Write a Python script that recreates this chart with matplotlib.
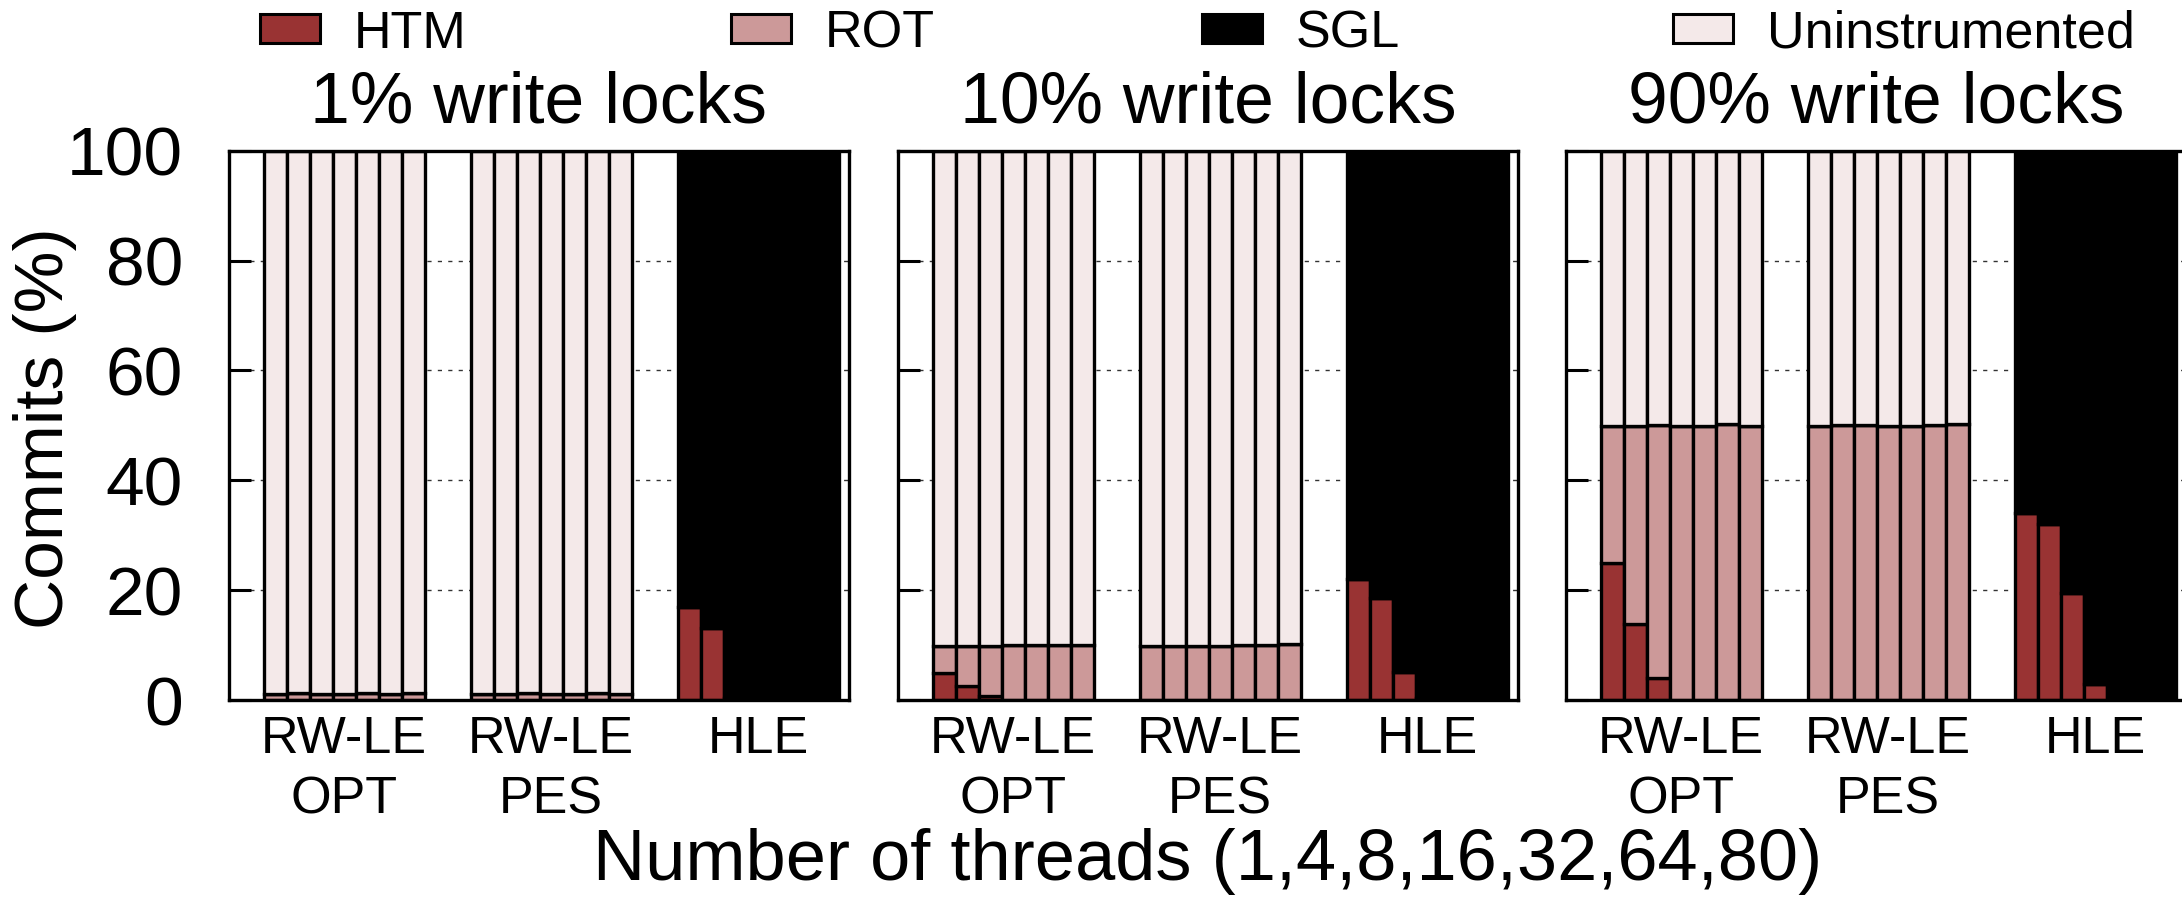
import matplotlib
matplotlib.use("Agg")
import matplotlib.pyplot as plt
from matplotlib.patches import Rectangle
import numpy as np

plt.rcParams["font.family"] = ["Liberation Sans", "DejaVu Sans"]

W, H = 2182, 900

# ---------------------------------------------------------------------
# data: 7 thread counts per group, groups RW-LE OPT | RW-LE PES | HLE
# ---------------------------------------------------------------------
THREADS = [1, 4, 8, 16, 32, 64, 80]
GROUPS = ["RW-LE\nOPT", "RW-LE\nPES", "HLE"]
TITLES = ["1% write locks", "10% write locks", "90% write locks"]
SERIES = ["HTM", "ROT", "SGL", "Uninstrumented"]
COLORS = ["#993333", "#cc9999", "#000000", "#f4e9e9"]

# 1% write locks
w1_htm = [0, 0, 0, 0, 0, 0, 0,
          0, 0, 0, 0, 0, 0, 0,
          17.0, 13.1, 0.4, 0, 0, 0, 0]
w1_rot = [1.1, 1.2, 1.1, 1.1, 1.2, 1.1, 1.2,
          1.1, 1.1, 1.2, 1.1, 1.1, 1.2, 1.1,
          0, 0, 0, 0, 0, 0, 0]
w1_sgl = [0, 0, 0, 0, 0, 0, 0,
          0, 0, 0, 0, 0, 0, 0,
          83.0, 86.9, 99.6, 100, 100, 100, 100]
w1_uni = [98.9, 98.8, 98.9, 98.9, 98.8, 98.9, 98.8,
          98.9, 98.9, 98.8, 98.9, 98.9, 98.8, 98.9,
          0, 0, 0, 0, 0, 0, 0]

# 10% write locks
w10_htm = [4.9, 2.6, 0.8, 0, 0, 0, 0,
           0, 0, 0, 0, 0, 0, 0,
           22.0, 18.5, 5.1, 0.4, 0, 0, 0]
w10_rot = [5.0, 7.3, 9.1, 10.0, 10.1, 10.0, 10.0,
           9.9, 9.9, 9.9, 9.9, 10.0, 10.0, 10.2,
           0, 0, 0, 0, 0, 0, 0]
w10_sgl = [0, 0, 0, 0, 0, 0, 0,
           0, 0, 0, 0, 0, 0, 0,
           78.0, 81.5, 94.9, 99.6, 100, 100, 100]
w10_uni = [90.1, 90.1, 90.1, 90.0, 89.9, 90.0, 90.0,
           90.1, 90.1, 90.1, 90.1, 90.0, 90.0, 89.8,
           0, 0, 0, 0, 0, 0, 0]

# 90% write locks
w90_htm = [24.9, 13.8, 4.0, 0, 0, 0, 0,
           0, 0, 0, 0, 0, 0, 0,
           34.1, 32.0, 19.5, 3.0, 0, 0, 0]
w90_rot = [25.0, 36.1, 46.0, 49.8, 49.8, 50.2, 49.9,
           49.9, 50.0, 50.0, 49.8, 49.9, 50.0, 50.3,
           0, 0, 0, 0, 0, 0, 0]
w90_sgl = [0, 0, 0, 0, 0, 0, 0,
           0, 0, 0, 0, 0, 0, 0,
           65.9, 68.0, 80.5, 97.0, 100, 100, 100]
w90_uni = [50.1, 50.1, 50.0, 50.2, 50.2, 49.8, 50.1,
           50.1, 50.0, 50.0, 50.2, 50.1, 50.0, 49.7,
           0, 0, 0, 0, 0, 0, 0]

PANEL_DATA = [
    [w1_htm, w1_rot, w1_sgl, w1_uni],
    [w10_htm, w10_rot, w10_sgl, w10_uni],
    [w90_htm, w90_rot, w90_sgl, w90_uni],
]

# ---------------------------------------------------------------------
# layout (pixels)
# ---------------------------------------------------------------------
AX_LEFT = [229, 898, 1566]
AX_W = 620
AX_TOP, AX_BOT = 150.7, 700
LW = 2.4

fig = plt.figure(figsize=(W / 100, H / 100), dpi=100)

n = len(THREADS)
x = np.concatenate([g * (n + 2) + np.arange(n) for g in range(len(GROUPS))])
centers = [g * (n + 2) + (n - 1) / 2 for g in range(len(GROUPS))]

for p, (title, series) in enumerate(zip(TITLES, PANEL_DATA)):
    ax = fig.add_axes([AX_LEFT[p] / W, 1 - AX_BOT / H, AX_W / W, (AX_BOT - AX_TOP) / H])
    bottom = np.zeros(len(x))
    for vals, color in zip(series, COLORS):
        vals = np.array(vals, dtype=float)
        ax.bar(x, vals, width=1.0, bottom=bottom, color=color,
               edgecolor="black", linewidth=LW, zorder=2)
        bottom += vals

    ax.set_xlim(-2.0, 24.95)
    ax.set_ylim(0, 100)
    ax.set_yticks([0, 20, 40, 60, 80, 100])
    ax.set_xticks(centers, labels=GROUPS)
    for lbl in ax.get_xticklabels():
        lbl.set_linespacing(1.3)
    ax.tick_params(axis="x", length=0, pad=11, labelsize=37.5)
    ax.tick_params(axis="y", direction="in", length=16, width=2.2, pad=33,
                   labelsize=50, labelleft=(p == 0))
    ax.yaxis.grid(True, linestyle=(0, (3, 4.5)), linewidth=1.0, color="#333333", zorder=0)
    ax.set_axisbelow(True)
    for s in ax.spines.values():
        s.set_linewidth(LW)
        s.set_zorder(3)
    ax.set_title(title, fontsize=51.5, pad=20.5)

# axis labels
fig.text(45 / W, 1 - 428 / H, "Commits (%)", rotation=90, ha="center", va="center",
         fontsize=50)
fig.text(1208 / W, 1 - 880 / H, "Number of threads (1,4,8,16,32,64,80)",
         ha="center", va="baseline", fontsize=52)

# legend across the top, equal column widths
for i, (name, color) in enumerate(zip(SERIES, COLORS)):
    x0 = (260 + i * 471) / W
    fig.add_artist(Rectangle((x0, 1 - 43 / H), 60 / W, 29 / H, transform=fig.transFigure,
                             facecolor=color, edgecolor="black", linewidth=2.2))
    fig.text(x0 + 94 / W, 1 - 48 / H, name, fontsize=37.5, va="baseline")

fig.savefig("out.png", dpi=100)
